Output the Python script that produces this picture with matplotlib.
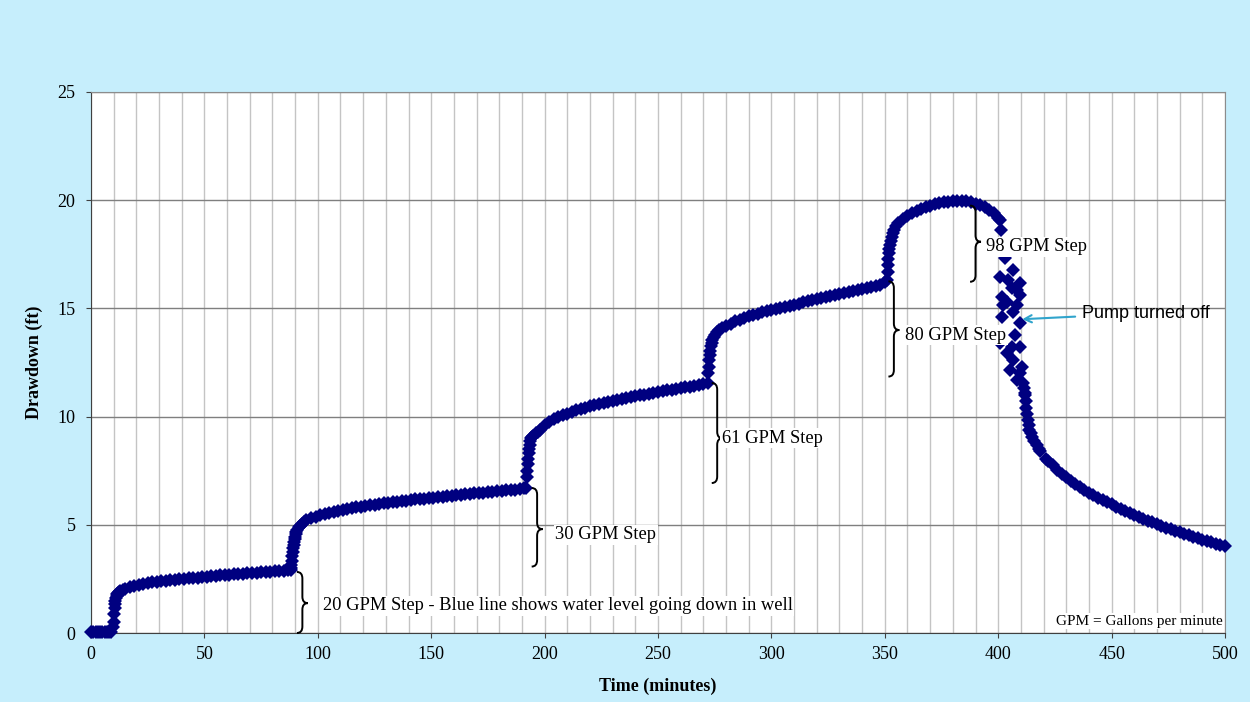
import matplotlib
matplotlib.use('Agg')
from matplotlib import pyplot as plt
from matplotlib.path import Path
from matplotlib.patches import PathPatch
from matplotlib.ticker import MultipleLocator

# drawdown (ft) vs time (minutes), one pair of arrays per pumping step
step0_t = [0, 1, 2, 3, 4, 5, 6, 7, 8, 9]
step0_dd = [0.06, 0.06, 0.06, 0.06, 0.06, 0.06, 0.06, 0.06, 0.06, 0.06]

step1_t = [9.5, 10, 10.2, 10.4, 10.6, 10.8, 11, 11.3, 11.6, 12, 12.5, 13, 14, 15, 17, 19, 21, 23, 25, 27,
           29, 31, 33, 35, 37, 39, 41, 43, 45, 47, 49, 51, 53, 55, 57, 59, 61, 63, 65, 67,
           69, 71, 73, 75, 77, 79, 81, 83, 85, 87, 88]
step1_dd = [0.3, 0.5, 0.9, 1.15, 1.35, 1.5, 1.6, 1.7, 1.78, 1.85, 1.9, 1.95, 2.0, 2.05, 2.12, 2.18, 2.23, 2.27, 2.31, 2.34,
            2.37, 2.4, 2.42, 2.44, 2.46, 2.48, 2.5, 2.52, 2.54, 2.56, 2.58, 2.6, 2.62, 2.64, 2.66, 2.67, 2.69, 2.71, 2.72, 2.74,
            2.76, 2.77, 2.79, 2.8, 2.82, 2.83, 2.85, 2.86, 2.88, 2.9, 2.92]

step2_t = [88.2, 88.4, 88.6, 88.8, 89, 89.2, 89.4, 89.6, 89.8, 90, 90.3, 90.6, 91, 91.5, 92, 93, 94, 95, 97, 99,
           101, 103, 105, 107, 109, 111, 113, 115, 117, 119, 121, 123, 125, 127, 129, 131, 133, 135, 137, 139,
           141, 143, 145, 147, 149, 151, 153, 155, 157, 159, 161, 163, 165, 167, 169, 171, 173, 175, 177, 179,
           181, 183, 185, 187, 189, 191, 192]
step2_dd = [3.0, 3.15, 3.35, 3.55, 3.75, 3.93, 4.08, 4.22, 4.35, 4.45, 4.58, 4.68, 4.78, 4.88, 4.95, 5.05, 5.13, 5.2, 5.3, 5.38,
            5.45, 5.51, 5.56, 5.61, 5.65, 5.69, 5.73, 5.77, 5.8, 5.84, 5.87, 5.9, 5.93, 5.96, 5.99, 6.02, 6.04, 6.07, 6.09, 6.12,
            6.14, 6.17, 6.19, 6.21, 6.24, 6.26, 6.28, 6.3, 6.32, 6.35, 6.37, 6.39, 6.41, 6.43, 6.45, 6.47, 6.49, 6.51, 6.53, 6.55,
            6.57, 6.59, 6.61, 6.63, 6.65, 6.68, 6.72]

step3_t = [192.2, 192.4, 192.6, 192.8, 193, 193.2, 193.4, 193.7, 194, 194.5, 195, 196, 197, 198, 200, 202, 204, 206, 208, 210,
           212, 214, 216, 218, 220, 222, 224, 226, 228, 230, 232, 234, 236, 238, 240, 242, 244, 246, 248, 250,
           252, 254, 256, 258, 260, 262, 264, 266, 268, 270, 272]
step3_dd = [7.2, 7.5, 7.8, 8.05, 8.3, 8.5, 8.68, 8.85, 9.0, 9.07, 9.12, 9.22, 9.31, 9.4, 9.6, 9.75, 9.87, 9.97, 10.06, 10.14,
            10.22, 10.29, 10.36, 10.42, 10.48, 10.54, 10.59, 10.64, 10.69, 10.74, 10.78, 10.82, 10.86, 10.9, 10.94, 10.98, 11.02, 11.06, 11.1, 11.13,
            11.17, 11.21, 11.25, 11.28, 11.32, 11.36, 11.39, 11.43, 11.47, 11.51, 11.55]

step4_t = [272.2, 272.4, 272.6, 272.8, 273, 273.3, 273.6, 274, 274.5, 275, 276, 277, 278, 280, 282, 284, 286, 288, 290, 292,
           294, 296, 298, 300, 302, 304, 306, 308, 310, 312, 314, 316, 318, 320, 322, 324, 326, 328, 330, 332,
           334, 336, 338, 340, 342, 344, 346, 348, 350, 351]
step4_dd = [12.0, 12.3, 12.6, 12.85, 13.05, 13.25, 13.42, 13.55, 13.68, 13.78, 13.9, 14.0, 14.08, 14.2, 14.3, 14.4, 14.48, 14.56, 14.63, 14.7,
            14.76, 14.82, 14.87, 14.92, 14.97, 15.02, 15.07, 15.12, 15.17, 15.22, 15.28, 15.33, 15.38, 15.43, 15.48, 15.53, 15.57, 15.62, 15.66, 15.71,
            15.75, 15.8, 15.84, 15.88, 15.93, 15.98, 16.03, 16.1, 16.2, 16.3]

step5_t = [351.2, 351.4, 351.6, 351.8, 352, 352.3, 352.6, 353, 353.5, 354, 355, 356, 358, 360, 362, 364, 366, 368, 370, 372,
           374, 376, 378, 380, 382, 384, 386, 388, 390, 392, 394, 396, 398, 400]
step5_dd = [16.7, 17.0, 17.3, 17.55, 17.75, 17.95, 18.12, 18.3, 18.47, 18.6, 18.8, 18.95, 19.12, 19.27, 19.4, 19.5, 19.6, 19.68, 19.75, 19.81,
            19.86, 19.9, 19.93, 19.95, 19.96, 19.96, 19.94, 19.9, 19.84, 19.77, 19.68, 19.56, 19.4, 19.2]

# pump off: scattered readings, then recovery
off_t = [400.8, 401.2, 403.0, 406.7, 400.8, 404.5, 409.6, 405.9, 408.1, 409.6, 401.5, 403.7, 402.3, 408.1, 406.7, 409.6,
         401.5, 407.4, 400.8, 405.9, 409.6, 403.7, 406.7, 410.3, 405.2, 409.6, 408.1, 411.1, 411.8]
off_dd = [19.1, 18.6, 17.31, 16.77, 16.47, 16.31, 16.16, 15.93, 15.85, 15.62, 15.54, 15.31, 15.16, 15.16, 14.85, 14.31,
          14.62, 13.77, 13.39, 13.23, 13.23, 12.92, 12.62, 12.31, 12.15, 12.0, 11.69, 11.54, 11.08]

rec_t = [411.5, 411.8, 412.1, 412.4, 412.7, 413, 413.4, 413.8, 414.3, 415, 416, 417, 418, 418.6,
         421, 422, 424, 426, 428, 430, 432, 434, 436, 438, 440, 442, 444, 446, 448, 450, 452, 454, 456, 458,
         460, 462, 464, 466, 468, 470, 472, 474, 476, 478, 480, 482, 484, 486, 488, 490, 492, 494, 496, 498, 500]
rec_dd = [11.3, 11.0, 10.7, 10.4, 10.1, 9.85, 9.6, 9.4, 9.22, 9.05, 8.85, 8.68, 8.52, 8.42,
          8.05, 7.95, 7.75, 7.55, 7.37, 7.2, 7.04, 6.89, 6.75, 6.62, 6.49, 6.37, 6.26, 6.15, 6.04, 5.94, 5.84, 5.74, 5.64, 5.54,
          5.45, 5.36, 5.27, 5.19, 5.11, 5.03, 4.95, 4.87, 4.8, 4.73, 4.66, 4.59, 4.52, 4.45, 4.38, 4.31, 4.25, 4.19, 4.13, 4.07, 4.01]

# step braces: (left x, bottom, top, tip), label
brace_spans = [(90.8, 0.0, 2.82, 1.38), (194.3, 3.07, 6.7, 4.8), (273.7, 6.93, 11.55, 9.0),
               (351.6, 11.85, 16.25, 14.0), (387.6, 16.23, 19.75, 18.08)]
step_labels = ['20 GPM Step - Blue line shows water level going down in well', '30 GPM Step',
               '61 GPM Step', '80 GPM Step', '98 GPM Step']
label_pos = [(102.3, 1.25), (204.6, 4.53), (278.2, 9.0), (358.9, 13.77), (394.6, 17.84)]

serif = 'Liberation Serif'
bg = '#C6EEFC'
navy = '#000080'


def brace(ax, x, y0, y1, ym, w=4.8, d=0.3):
    xm = x + w / 2
    verts = [(x, y1), (xm, y1), (xm, y1 - d), (xm, ym + d), (xm, ym), (x + w, ym),
             (xm, ym), (xm, ym - d), (xm, y0 + d), (xm, y0), (x, y0)]
    codes = [Path.MOVETO, Path.CURVE3, Path.CURVE3, Path.LINETO, Path.CURVE3, Path.CURVE3,
             Path.CURVE3, Path.CURVE3, Path.LINETO, Path.CURVE3, Path.CURVE3]
    ax.add_patch(PathPatch(Path(verts, codes), facecolor='none', edgecolor='black',
                           lw=1.4, zorder=4, clip_on=False))


fig = plt.figure(figsize=(12.5, 7.02), dpi=100, facecolor=bg)
ax = fig.add_axes([91 / 1250, 69 / 702, 1134 / 1250, 541 / 702])
ax.set_facecolor('white')

t_all = step0_t + step1_t + step2_t + step3_t + step4_t + step5_t + off_t + rec_t
dd_all = step0_dd + step1_dd + step2_dd + step3_dd + step4_dd + step5_dd + off_dd + rec_dd
ax.plot(t_all, dd_all, linestyle='none', marker='D', ms=7, color=navy,
        markeredgewidth=0, zorder=3, clip_on=False)

ax.set_xlim(0, 500)
ax.set_ylim(0, 25)
ax.xaxis.set_major_locator(MultipleLocator(50))
ax.xaxis.set_minor_locator(MultipleLocator(10))
ax.yaxis.set_major_locator(MultipleLocator(5))
ax.set_axisbelow(True)
ax.grid(True, which='both', axis='x', color='#C4C4C4', lw=1)
ax.grid(True, which='major', axis='y', color='#7F7F7F', lw=1)
ax.tick_params(axis='both', which='major', direction='out', length=3.6, color='#404040',
               labelsize=13)
ax.tick_params(axis='x', which='major', pad=6)
ax.tick_params(axis='y', which='major', pad=7.5)
ax.tick_params(axis='x', which='minor', length=0)
for lab in ax.get_xticklabels() + ax.get_yticklabels():
    lab.set_fontfamily(serif)

for side in ['left', 'bottom']:
    ax.spines[side].set_color('#404040')
for side in ['top', 'right']:
    ax.spines[side].set_color('#8C8C8C')

ax.set_xlabel('Time (minutes)', fontfamily=serif, fontsize=13, fontweight='bold')
ax.set_ylabel('Drawdown (ft)', fontfamily=serif, fontsize=13, fontweight='bold')
ax.xaxis.set_label_coords(0.5, -0.082)
ax.yaxis.set_label_coords(-0.042, 0.5)

for (x, y0, y1, ym), text, (tx, ty) in zip(brace_spans, step_labels, label_pos):
    brace(ax, x, y0, y1, ym)
    ax.text(tx, ty, text, fontfamily=serif, fontsize=13.3, ha='left', va='center', zorder=5,
            bbox=dict(facecolor='white', edgecolor='none', pad=1))

ax.annotate('Pump turned off', xy=(410.6, 14.5), xytext=(437, 14.78),
            fontfamily='Liberation Sans', fontsize=13, ha='left', va='center', zorder=6,
            arrowprops=dict(arrowstyle='->', color='#30A4CC', lw=1.5, shrinkA=3, shrinkB=0))

ax.text(498.8, 0.55, 'GPM = Gallons per minute', fontfamily=serif, fontsize=11,
        ha='right', va='center', zorder=5,
        bbox=dict(facecolor='white', edgecolor='none', pad=1))

fig.savefig('out.png', dpi=100, facecolor=bg)
